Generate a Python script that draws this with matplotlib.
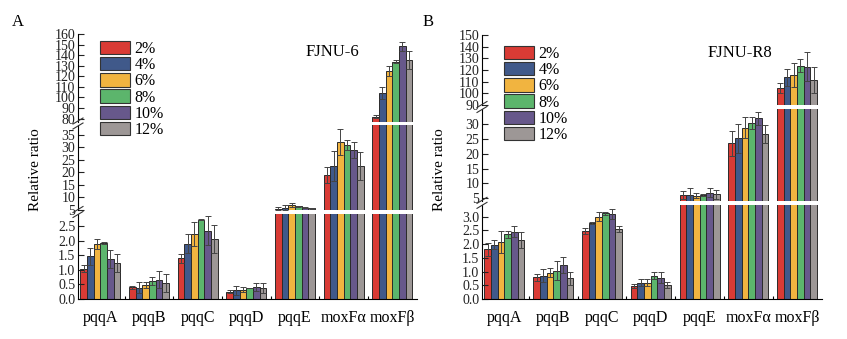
import matplotlib.pyplot as plt
from matplotlib.patches import Patch
from matplotlib.lines import Line2D
import numpy as np

plt.rcParams['font.family'] = ['Liberation Serif', 'DejaVu Serif']

genes = ['pqqA', 'pqqB', 'pqqC', 'pqqD', 'pqqE', 'moxFα', 'moxFβ']
levels = ['2%', '4%', '6%', '8%', '10%', '12%']
colors = ['#d93b35', '#40598a', '#f1b440', '#5cb56c', '#67588b', '#9d9796']

# FJNU-6: one row per level, one column per gene
fjnu6_mean = [
    [1.05, 0.40, 1.40, 0.25, 5.4, 19.0, 82.0],
    [1.47, 0.38, 1.90, 0.30, 5.8, 22.6, 104.4],
    [1.90, 0.48, 2.25, 0.32, 6.7, 32.1, 125.0],
    [1.93, 0.62, 2.74, 0.38, 6.3, 31.0, 134.0],
    [1.38, 0.67, 2.36, 0.41, 5.8, 29.0, 148.2],
    [1.24, 0.55, 2.07, 0.38, 5.5, 22.6, 135.5],
]
fjnu6_err = [
    [0.11, 0.06, 0.15, 0.05, 0.7, 3.3, 1.5],
    [0.29, 0.19, 0.33, 0.16, 1.2, 6.1, 5.6],
    [0.18, 0.09, 0.42, 0.09, 0.8, 5.2, 4.8],
    [0.02, 0.14, 0.03, 0.01, 0.3, 2.0, 1.0],
    [0.32, 0.28, 0.49, 0.14, 0.3, 3.3, 3.8],
    [0.32, 0.32, 0.49, 0.17, 0.3, 5.7, 8.9],
]

# FJNU-R8
fjnur8_mean = [
    [1.81, 0.79, 2.48, 0.47, 6.1, 23.5, 104.4],
    [1.97, 0.85, 2.76, 0.60, 6.1, 25.2, 113.8],
    [2.09, 0.96, 3.00, 0.60, 5.9, 28.8, 115.8],
    [2.36, 1.03, 3.12, 0.84, 6.1, 30.3, 123.8],
    [2.45, 1.23, 3.09, 0.78, 6.9, 32.0, 123.0],
    [2.15, 0.75, 2.54, 0.51, 6.3, 26.6, 111.5],
]
fjnur8_err = [
    [0.24, 0.12, 0.10, 0.08, 1.4, 4.3, 4.3],
    [0.16, 0.23, 0.03, 0.14, 2.3, 4.9, 7.2],
    [0.40, 0.16, 0.15, 0.12, 0.8, 3.5, 10.5],
    [0.13, 0.35, 0.06, 0.13, 0.4, 2.0, 5.7],
    [0.21, 0.28, 0.18, 0.19, 1.5, 2.2, 12.7],
    [0.30, 0.25, 0.10, 0.10, 1.5, 3.1, 11.4],
]

W, H = 847, 339
fig = plt.figure(figsize=(W / 100, H / 100), dpi=100)


def px_axes(x0, y0, x1, y1):
    return fig.add_axes([x0 / W, 1 - y1 / H, (x1 - x0) / W, (y1 - y0) / H])


def slash(x, y):
    # double "//" mark across the y spine
    for dy in (-2.5, 2.5):
        fig.add_artist(Line2D([(x - 5) / W, (x + 5) / W],
                              [1 - (y + dy + 3) / H, 1 - (y + dy - 3) / H],
                              color='#333333', lw=0.8))


def draw_panel(x0, x1, segs, mean, err, title, title_xy, letter_xy, letter, leg_xy):
    x = np.arange(len(genes))
    w = 0.137
    axes = []
    for k, (top, bot, ylim, ticks, fmt) in enumerate(segs):
        ax = px_axes(x0, top, x1, bot)
        for i in range(len(levels)):
            ax.bar(x + (i - 2.5) * w, mean[i], w, yerr=err[i], color=colors[i],
                   edgecolor='#2b2b2b', linewidth=0.7,
                   error_kw=dict(ecolor='#444444', elinewidth=0.7, capsize=2, capthick=0.7))
        ax.set_ylim(*ylim)
        ax.set_xlim(-0.46, 6.51)
        ax.set_yticks(ticks)
        ax.set_yticklabels([fmt % t for t in ticks], fontsize=10)
        ax.tick_params(axis='y', direction='in', length=4, width=0.8, pad=2, colors='#222222')
        for s in ('top', 'right'):
            ax.spines[s].set_visible(False)
        ax.spines['left'].set_linewidth(0.8)
        if k < len(segs) - 1:
            ax.spines['bottom'].set_visible(False)
            ax.set_xticks([])
        else:
            ax.spines['bottom'].set_linewidth(0.8)
            ax.set_xticks(x)
            ax.set_xticklabels(genes, fontsize=11.5)
            ax.set_xticks(x[:-1] + 0.5, minor=True)
            ax.tick_params(axis='x', which='major', length=0, pad=8)
            ax.tick_params(axis='x', which='minor', length=2, direction='in', width=0.8)
        axes.append(ax)
    for (t1, b1, *_), (t2, b2, *_) in zip(segs[:-1], segs[1:]):
        slash(x0, (b1 + t2) / 2)
    fig.text(title_xy[0] / W, 1 - title_xy[1] / H, title, ha='center', va='center', fontsize=12)
    fig.text(letter_xy[0] / W, 1 - letter_xy[1] / H, letter, ha='center', va='center', fontsize=12)
    fig.text((x0 - 43) / W, 1 - 170 / H, 'Relative ratio', rotation=90,
             ha='center', va='center', fontsize=11)
    handles = [Patch(facecolor=c, edgecolor='#333333', linewidth=0.8) for c in colors]
    fig.legend(handles, levels, loc='upper left', bbox_to_anchor=(leg_xy[0] / W, 1 - leg_xy[1] / H),
               frameon=False, fontsize=11.5, handlelength=1.85, handleheight=0.9,
               labelspacing=0.0, handletextpad=0.3, borderpad=0, borderaxespad=0)
    return axes


draw_panel(78, 417,
           [(34, 122, (76.8, 160), list(range(80, 161, 10)), '%d'),
            (125, 210, (4.8, 39), list(range(5, 36, 5)), '%d'),
            (214, 299, (0, 2.93), [0, 0.5, 1.0, 1.5, 2.0, 2.5], '%.1f')],
           fjnu6_mean, fjnu6_err, 'FJNU-6', (332, 52), (18, 22), 'A', (100, 41))

draw_panel(482, 822,
           [(35, 105, (90, 150), list(range(90, 151, 10)), '%d'),
            (109, 200.7, (4.2, 35.05), list(range(5, 31, 5)), '%d'),
            (205, 299, (0, 3.42), [0, 0.5, 1.0, 1.5, 2.0, 2.5, 3.0], '%.1f')],
           fjnur8_mean, fjnur8_err, 'FJNU-R8', (740, 53), (428, 22), 'B', (504, 46))

fig.savefig('out.png', dpi=100, facecolor='white')
